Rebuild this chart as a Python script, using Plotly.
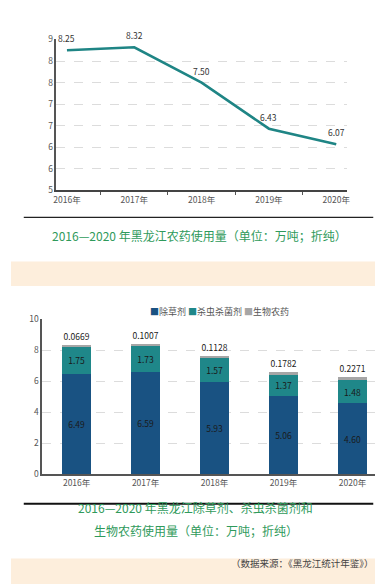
import plotly.graph_objects as go

# ---------------- data ----------------
years = ["2016年", "2017年", "2018年", "2019年", "2020年"]
pesticide_total = [8.25, 8.32, 7.50, 6.43, 6.07]
total_tickvals = [5, 5.5, 6, 6.5, 7, 7.5, 8, 8.5]
total_ticktext = ["5", "6", "6", "7", "7", "8", "8", "9"]

herbicide = [6.49, 6.59, 5.93, 5.06, 4.60]
insecticide_fungicide = [1.75, 1.73, 1.57, 1.37, 1.48]
biopesticide = [0.0669, 0.1007, 0.1128, 0.1782, 0.2271]
series_names = ["除草剂", "杀虫杀菌剂", "生物农药"]
series_colors = ["#195282", "#1f8789", "#a6a6a6"]

title1 = "2016—2020 年黑龙江农药使用量（单位：万吨；折纯）"
title2_l1 = "2016—2020 年黑龙江除草剂、杀虫杀菌剂和"
title2_l2 = "生物农药使用量（单位：万吨；折纯）"
source_text = "（数据来源：《黑龙江统计年鉴》）"

W, H = 383, 584
FONT = "Noto Sans CJK SC, Liberation Sans, sans-serif"
GREEN = "#2f9a5b"
PEACH = "#fdeedc"


def py(px):
    return 1 - px / H


fig = go.Figure()

# ---------------- line chart ----------------
fig.add_trace(go.Scatter(
    x=years, y=pesticide_total, mode="lines",
    line=dict(color="#1f8585", width=2.6),
    xaxis="x", yaxis="y", showlegend=False, hoverinfo="x+y",
))
for yr, v in zip(years, pesticide_total):
    fig.add_annotation(x=yr, y=v, xref="x", yref="y", text=f"{v:.2f}",
                       showarrow=False, yshift=12,
                       font=dict(size=8.5, color="#333", family=FONT))

# ---------------- stacked bar chart ----------------
stack = [herbicide, insecticide_fungicide, biopesticide]
for i, (name, color, vals) in enumerate(zip(series_names, series_colors, stack)):
    if i < 2:
        txt = [f"{v:.2f}" for v in vals]
        pos = "inside"
    else:
        txt = [f"{v:.4f}" for v in vals]
        pos = "outside"
    fig.add_trace(go.Bar(
        x=years, y=vals, name=name, marker=dict(color=color, line=dict(width=0)),
        text=txt, textposition=pos, insidetextanchor="middle",
        textfont=dict(size=8.5, color="#1a1a1a", family=FONT),
        constraintext="none", cliponaxis=False,
        xaxis="x2", yaxis="y2", showlegend=False,
    ))

# compact legend row (series names and colours from the data lists)
leg = "".join(
    f"<span style='color:{c}'>■</span>{n} " for n, c in zip(series_names, series_colors)
)
fig.add_annotation(x=212 / W, y=py(303), xref="paper", yref="paper", text=leg.strip(),
                   showarrow=False, font=dict(size=9, color="#555", family=FONT))

# ---------------- axes ----------------
tickfont = dict(size=8.5, color="#555", family=FONT)
fig.update_layout(
    width=W, height=H,
    margin=dict(l=0, r=0, t=0, b=0),
    paper_bgcolor="white", plot_bgcolor="white",
    barmode="stack", bargap=0.587,
    font=dict(family=FONT),
    xaxis=dict(domain=[46.3 / W, 342 / W], anchor="y", type="category",
               tickson="boundaries", ticks="outside", ticklen=3, tickcolor="#555",
               showline=True, linecolor="#444", linewidth=2, showgrid=False,
               tickfont=tickfont),
    yaxis=dict(domain=[py(179), py(25)], anchor="x", range=[5, 8.5],
               tickvals=total_tickvals, ticktext=total_ticktext,
               showgrid=True, gridcolor="#dcdcdc", griddash="dash", gridwidth=1,
               showline=True, linecolor="#555", linewidth=1.5, zeroline=False,
               tickfont=tickfont),
    xaxis2=dict(domain=[31.7 / W, 1.0], anchor="y2", type="category",
                showline=True, linecolor="#555", linewidth=1.5, showgrid=False,
                ticks="", tickfont=tickfont),
    yaxis2=dict(domain=[py(469), py(310.7)], anchor="x2", range=[0, 10], dtick=2,
                showgrid=True, gridcolor="#dcdcdc", griddash="dash", gridwidth=1,
                showline=True, linecolor="#555", linewidth=1.5, zeroline=False,
                tickfont=tickfont),
)

# ---------------- decorations ----------------
shapes = [
    dict(type="line", xref="paper", yref="paper", x0=13 / W, x1=369 / W,
         y0=py(206.7), y1=py(206.7), line=dict(color="#222", width=1.2)),
    dict(type="rect", xref="paper", yref="paper", x0=0, x1=1,
         y0=py(276.7), y1=py(251.7), fillcolor=PEACH, line=dict(width=0), layer="below"),
    dict(type="line", xref="paper", yref="paper", x0=13 / W, x1=369 / W,
         y0=py(499), y1=py(499), line=dict(color="#111", width=2)),
    dict(type="rect", xref="paper", yref="paper", x0=0, x1=1,
         y0=0, y1=py(555), fillcolor=PEACH, line=dict(width=0), layer="below"),
]
fig.update_layout(shapes=shapes)

title_font = dict(size=12, color=GREEN, family=FONT)
fig.add_annotation(x=192 / W, y=py(225), xref="paper", yref="paper", text=title1,
                   showarrow=False, font=title_font)
fig.add_annotation(x=188 / W, y=py(514), xref="paper", yref="paper", text=title2_l1,
                   showarrow=False, font=title_font)
fig.add_annotation(x=188.5 / W, y=py(537), xref="paper", yref="paper", text=title2_l2,
                   showarrow=False, font=title_font)
fig.add_annotation(x=372 / W, y=py(569), xref="paper", yref="paper", text=source_text,
                   showarrow=False, xanchor="right",
                   font=dict(size=9.5, color="#444", family=FONT))

fig.write_html("out.html")
